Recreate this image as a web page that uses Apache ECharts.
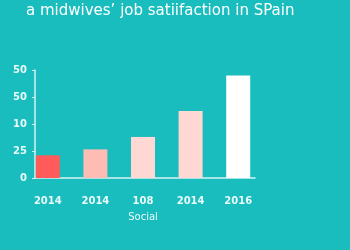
<!DOCTYPE html>
<html>
<head>
<meta charset="utf-8">
<script src="https://cdn.jsdelivr.net/npm/echarts@6/dist/echarts.min.js"></script>
<style>html,body{margin:0;padding:0;background:#19bdbd;}#c{width:350px;height:250px;}</style>
</head>
<body>
<div id="c"></div>
<script>
const titleText = "a midwives’ job satiifaction in SPain";
const categories = ["2014", "2014", "108", "2014", "2016"];
const values = [21, 26.5, 38, 62, 95];
const barColors = ["#ff5b5b", "#ffbcb4", "#ffd8d3", "#ffd8d3", "#ffffff"];
const yTickLabels = ["0", "25", "10", "50", "50"];
const xAxisName = "Social";

const chart = echarts.init(document.getElementById('c'));
const font = "'DejaVu Sans', Verdana, sans-serif";
chart.setOption({
  backgroundColor: '#19bdbd',
  animation: false,
  title: {
    text: titleText, left: 21, top: -1,
    textStyle: { color: '#ffffff', fontSize: 15, fontWeight: 'normal', fontFamily: font }
  },
  grid: [
    { left: 35, right: 95, top: 70, bottom: 72 },
    { left: 24, right: 88, top: 70, bottom: 72 }
  ],
  xAxis: [
    { type: 'category', gridIndex: 0, data: categories,
      axisLine: { lineStyle: { color: '#d8f4f4', width: 1.5 } },
      axisTick: { show: false }, axisLabel: { show: false } },
    { type: 'category', gridIndex: 1, data: categories,
      axisLine: { show: false }, axisTick: { show: false },
      axisLabel: { color: '#e8fafa', fontSize: 10, fontWeight: 'bold', fontFamily: font, margin: 18 },
      name: xAxisName, nameLocation: 'middle', nameGap: 34,
      nameTextStyle: { color: '#e8fafa', fontSize: 10, fontFamily: font } }
  ],
  yAxis: [
    { type: 'value', gridIndex: 0, min: 0, max: 100, interval: 25,
      axisLine: { show: true, lineStyle: { color: '#d8f4f4', width: 1.5 } },
      axisTick: { show: true, length: 3, lineStyle: { color: '#d8f4f4' } },
      splitLine: { show: false },
      axisLabel: { color: '#e8fafa', fontSize: 10, fontWeight: 'bold', fontFamily: font, margin: 8,
        formatter: (v) => yTickLabels[Math.round(v / 25)] } },
    { type: 'value', gridIndex: 1, min: 0, max: 100, show: false }
  ],
  series: [{
    type: 'bar', xAxisIndex: 1, yAxisIndex: 1, barWidth: 24,
    data: values.map((v, i) => ({ value: v, itemStyle: { color: barColors[i] } }))
  }]
});
</script>
</body>
</html>
